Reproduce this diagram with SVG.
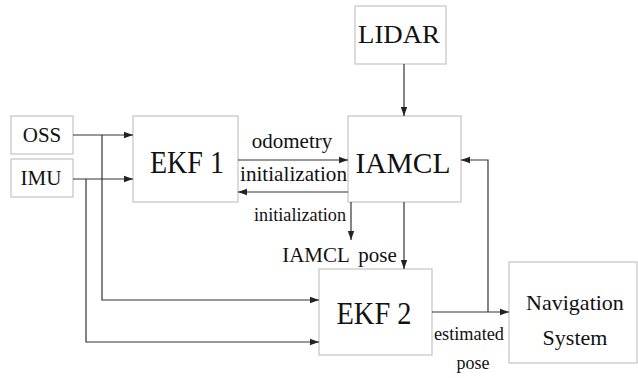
<svg xmlns="http://www.w3.org/2000/svg" width="638" height="378" viewBox="0 0 638 378">
  <style>
    .box { fill: #ffffff; stroke: #c4c4c4; stroke-width: 1.2; }
    .wire { fill: none; stroke: #333333; stroke-width: 1.2; }
    .t { font-family: "Liberation Serif", "DejaVu Serif", serif; fill: #111111; text-anchor: middle; }
  </style>
  <defs>
    <marker id="arrow" markerUnits="userSpaceOnUse" markerWidth="10" markerHeight="8" refX="9" refY="4" orient="auto">
      <path d="M0,0.8 L9,4 L0,7.2 Z" fill="#222222"/>
    </marker>
  </defs>
  <rect width="638" height="378" fill="#ffffff"/>

  <!-- blocks -->
  <g id="oss">
    <rect class="box" x="11" y="116" width="62" height="38"/>
    <text class="t" x="42" y="142" font-size="21">OSS</text>
  </g>
  <g id="imu">
    <rect class="box" x="11" y="159" width="62" height="38"/>
    <text class="t" x="41" y="185" font-size="21">IMU</text>
  </g>
  <g id="ekf1">
    <rect class="box" x="133" y="116" width="105" height="86"/>
    <text class="t" x="187" y="173" font-size="31" textLength="74" lengthAdjust="spacingAndGlyphs">EKF 1</text>
  </g>
  <g id="lidar">
    <rect class="box" x="355" y="6" width="91" height="58"/>
    <text class="t" x="399" y="43" font-size="26" textLength="82" lengthAdjust="spacingAndGlyphs">LIDAR</text>
  </g>
  <g id="iamcl">
    <rect class="box" x="348" y="116" width="113" height="86"/>
    <text class="t" x="403" y="173" font-size="30" textLength="95" lengthAdjust="spacingAndGlyphs">IAMCL</text>
  </g>
  <g id="ekf2">
    <rect class="box" x="319" y="269" width="113" height="86"/>
    <text class="t" x="374" y="324" font-size="31" textLength="75" lengthAdjust="spacingAndGlyphs">EKF 2</text>
  </g>
  <g id="navigation">
    <rect class="box" x="509" y="262" width="128" height="101"/>
    <text class="t" x="575" y="310" font-size="22">Navigation</text>
    <text class="t" x="575" y="345" font-size="22">System</text>
  </g>

  <!-- connectors -->
  <g id="connectors">
    <path class="wire" d="M73,135 H133" marker-end="url(#arrow)"/>
    <path class="wire" d="M73,179 H133" marker-end="url(#arrow)"/>
    <path class="wire" d="M102,135 V300 H319" marker-end="url(#arrow)"/>
    <path class="wire" d="M86,179 V342 H319" marker-end="url(#arrow)"/>
    <path class="wire" d="M238,160 H348" marker-end="url(#arrow)"/>
    <path class="wire" d="M348,192 H238" marker-end="url(#arrow)"/>
    <path class="wire" d="M351,202 V240" marker-end="url(#arrow)"/>
    <path class="wire" d="M404,202 V269" marker-end="url(#arrow)"/>
    <path class="wire" d="M404,64 V116" marker-end="url(#arrow)"/>
    <path class="wire" d="M432,312 H509" marker-end="url(#arrow)"/>
    <path class="wire" d="M488,312 V160 H461" marker-end="url(#arrow)"/>
  </g>

  <!-- connector labels -->
  <g id="labels">
    <text class="t" x="292" y="148" font-size="21">odometry</text>
    <text class="t" x="293.5" y="181" font-size="21" textLength="107" lengthAdjust="spacingAndGlyphs">initialization</text>
    <text class="t" x="300" y="221" font-size="18.5" textLength="92" lengthAdjust="spacingAndGlyphs">initialization</text>
    <text class="t" x="339.5" y="262" font-size="21" word-spacing="4">IAMCL pose</text>
    <text class="t" x="469" y="340" font-size="18" textLength="70" lengthAdjust="spacingAndGlyphs">estimated</text>
    <text class="t" x="473" y="369" font-size="18">pose</text>
  </g>
</svg>
